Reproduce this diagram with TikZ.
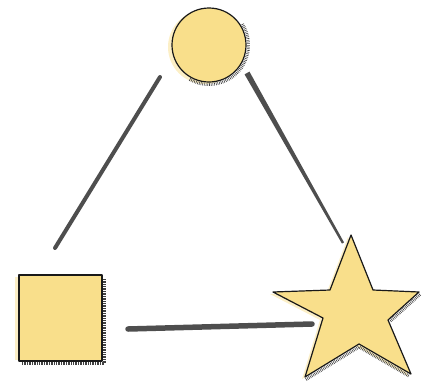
\documentclass[tikz,border=0pt]{standalone}
\usetikzlibrary{calc}
\definecolor{fillY}{HTML}{F9DF8B}
\definecolor{glowY}{HTML}{FCEFC6}
\definecolor{lineG}{HTML}{4E4E4E}
\begin{document}
\begin{tikzpicture}[x=1pt,y=-1pt,
  outl/.style={draw=black!90, line width=1.2pt, fill=fillY, line join=round},
  hatch/.style={draw=black!75, line width=3pt, dash pattern=on 0.6pt off 1.1pt},
  conn/.style={draw=lineG, line cap=round}]
\useasboundingbox (0,0) rectangle (422,383);
% glows
\fill[glowY] (205,47) circle[radius=37];
\fill[glowY] (15,277) rectangle (96,360);
% circle
\draw[hatch] ($(209,45)+(-32:39.5)$) arc[start angle=-32, end angle=120, radius=39.5];
\node[outl, shape=circle, minimum size=74pt, inner sep=0pt] (circ) at (209,45) {};
% square
\draw[hatch] (104.5,279) -- (104.5,363.5) -- (22,363.5);
\node[outl, shape=rectangle, minimum width=83pt, minimum height=86pt, inner sep=0pt] (sq) at (60.5,318) {};
% star
\coordinate (s1) at (351,235);
\coordinate (s2) at (373,290);
\coordinate (s3) at (419,292);
\coordinate (s4) at (388,320);
\coordinate (s5) at (411,374);
\coordinate (s6) at (359,344);
\coordinate (s7) at (305,377);
\coordinate (s8) at (323,318);
\coordinate (s9) at (273,292);
\coordinate (s10) at (330,290);
\coordinate (star) at (348,312);
\fill[glowY] ($(s1)+(-3,2)$) -- ($(s2)+(-3,2)$) -- ($(s3)+(-3,2)$) -- ($(s4)+(-3,2)$) -- ($(s5)+(-3,2)$) -- ($(s6)+(-3,2)$) -- ($(s7)+(-3,2)$) -- ($(s8)+(-3,2)$) -- ($(s9)+(-3,2)$) -- ($(s10)+(-3,2)$) -- cycle;
\draw[hatch] ($(s3)+(1,2.5)$) -- ($(s4)+(2,1.5)$) ;
\draw[hatch] ($(s7)+(1,2.5)$) -- ($(s6)+(0,3)$) -- ($(s5)+(-2,2)$);
\draw[outl] (s1) -- (s2) -- (s3) -- (s4) -- (s5) -- (s6) -- (s7) -- (s8) -- (s9) -- (s10) -- cycle;
% connectors
\coordinate (a1) at (160,77);
\coordinate (a2) at (55,248);
\draw[conn, line width=4pt] (a1) -- (a2);
\coordinate (b1) at (247,73);
\coordinate (b2) at (343,243);
\fill[lineG] ($(b1)!2.8pt!90:(b2)$) -- ($(b1)!2.8pt!-90:(b2)$) -- ($(b2)!1.2pt!90:(b1)$) -- ($(b2)!1.2pt!-90:(b1)$) -- cycle;
\coordinate (c1) at (128,329);
\coordinate (c2) at (312,324);
\draw[conn, line width=5.5pt] (c1) -- (c2);
\end{tikzpicture}
\end{document}
